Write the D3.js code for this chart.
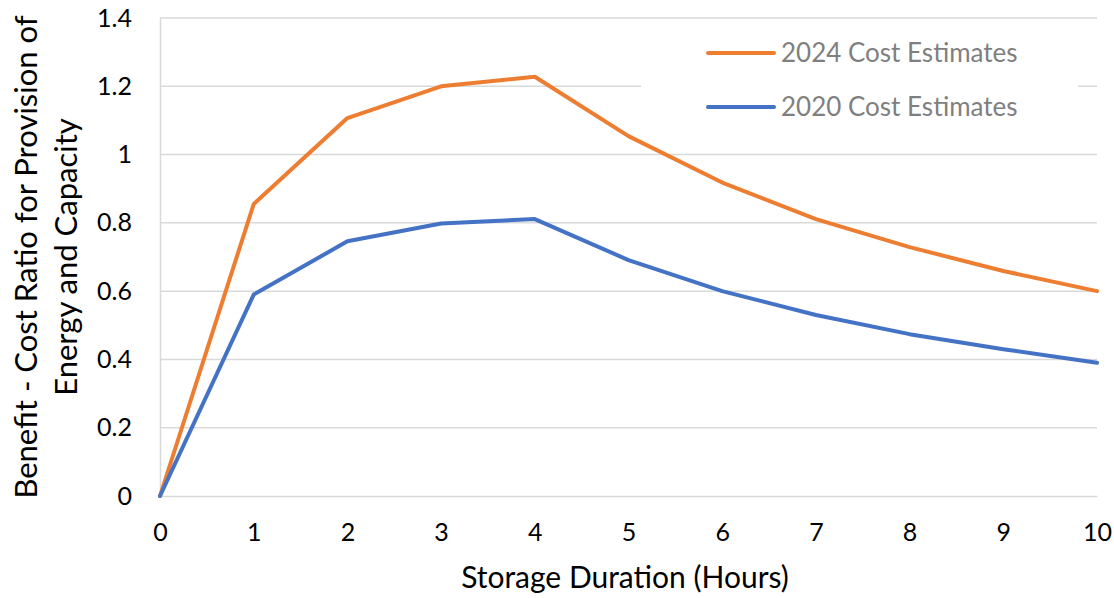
<!DOCTYPE html>
<html><head><meta charset="utf-8">
<script src="https://cdn.jsdelivr.net/npm/d3@7"></script>
<style>body{margin:0;background:#fff}svg{display:block}text{font-family:Lato,"Open Sans",sans-serif}</style>
</head><body><svg id="c" width="1114" height="598"></svg>
<script>
const hours = [0,1,2,3,4,5,6,7,8,9,10];
const cost2024 = [0,0.855,1.107,1.20,1.228,1.054,0.918,0.811,0.729,0.659,0.60];
const cost2020 = [0,0.59,0.746,0.798,0.811,0.691,0.60,0.53,0.474,0.43,0.39];
const yTicks = [0,0.2,0.4,0.6,0.8,1,1.2,1.4];
const seriesNames = ["2024 Cost Estimates","2020 Cost Estimates"];
const colors = ["#ED7D31","#4472C4"];

const svg = d3.select("#c");
const x = d3.scaleLinear().domain([0,10]).range([160,1097]);
const y = d3.scaleLinear().domain([0,1.4]).range([496,18]);

// gridlines
svg.append("g").selectAll("line").data(yTicks.filter(d=>d>0)).join("line")
  .attr("x1",x(0)).attr("x2",x(10)).attr("y1",d=>y(d)).attr("y2",d=>y(d))
  .attr("stroke","#d9d9d9").attr("stroke-width",1.5);

// axes
const xa = svg.append("g").attr("transform",`translate(0,${y(0)})`)
  .call(d3.axisBottom(x).tickValues(hours).tickSize(0).tickPadding(27).tickFormat(d3.format("d")));
xa.select(".domain").attr("stroke","#d9d9d9").attr("stroke-width",1.5);
xa.selectAll("text").attr("font-size",25).attr("fill","#000");
const ya = svg.append("g").attr("transform",`translate(${x(0)},0)`)
  .call(d3.axisLeft(y).tickValues(yTicks).tickSize(0).tickPadding(28).tickFormat(d=>String(+d.toFixed(1))));
ya.select(".domain").attr("stroke","#d9d9d9").attr("stroke-width",1.5);
ya.selectAll("text").attr("font-size",25).attr("fill","#000");

// legend background
svg.append("rect").attr("x",641).attr("y",28).attr("width",437).attr("height",100).attr("fill","#fff");

const line = d3.line().x((d,i)=>x(hours[i])).y(d=>y(d));
[cost2024,cost2020].forEach((s,k)=>{
  svg.append("path").datum(s).attr("d",line).attr("fill","none")
    .attr("stroke",colors[k]).attr("stroke-width",4).attr("stroke-linejoin","round").attr("stroke-linecap","round");
});

// legend
seriesNames.forEach((n,k)=>{
  const ly = 53 + k*54;
  svg.append("line").attr("x1",708).attr("x2",774).attr("y1",ly).attr("y2",ly)
    .attr("stroke",colors[k]).attr("stroke-width",4).attr("stroke-linecap","round");
  svg.append("text").attr("x",781).attr("y",ly).attr("dy","0.36em").attr("font-size",26).attr("fill","#7f7f7f").text(n);
});

// axis titles
svg.append("text").attr("x",625).attr("y",588).attr("text-anchor","middle").attr("font-size",30).attr("fill","#000").text("Storage Duration (Hours)");
const yt = svg.append("text").attr("transform","translate(0,257) rotate(-90)").attr("text-anchor","middle").attr("font-size",31).attr("fill","#000");
yt.append("tspan").attr("x",0).attr("y",37).text("Benefit - Cost Ratio for Provision of");
yt.append("tspan").attr("x",0).attr("y",77).text("Energy and Capacity");
</script></body></html>
